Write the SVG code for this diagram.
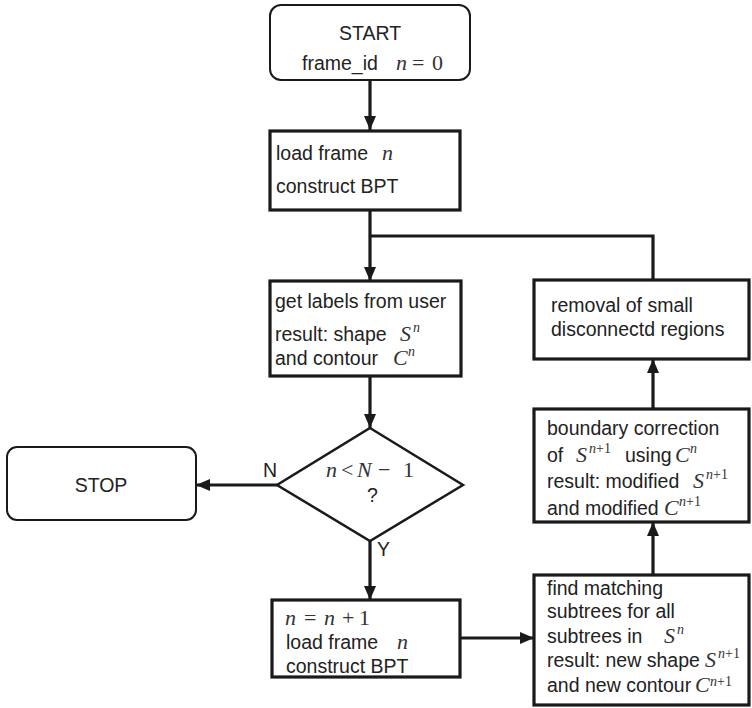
<svg xmlns="http://www.w3.org/2000/svg" width="752" height="708" viewBox="0 0 752 708">
<defs>
<marker id="ah" markerUnits="userSpaceOnUse" markerWidth="14" markerHeight="12" refX="14" refY="6" orient="auto">
<path d="M0,0 L14,6 L0,12 z" fill="#1a1a1a"/>
</marker>
<style>
.box{fill:#fff;stroke:#1a1a1a;stroke-width:3.2}
.rbox{fill:#fff;stroke:#1a1a1a;stroke-width:2}
.t{font-family:"Liberation Sans",Arial,sans-serif;font-size:19.5px;fill:#222}
.m{font-family:"Liberation Serif","Times New Roman",serif;font-style:italic;font-size:22px;fill:#333}
.mu{font-family:"Liberation Serif","Times New Roman",serif;font-style:normal;font-size:22px;fill:#333}
.sup{font-family:"Liberation Serif","Times New Roman",serif;font-style:italic;font-size:14px;fill:#333}
.sup2{font-family:"Liberation Serif","Times New Roman",serif;font-style:normal;font-size:14px;fill:#333}
.c{fill:none;stroke:#1a1a1a;stroke-width:3.2}
</style>
</defs>
<g id="connectors">
<line class="c" x1="370" y1="80" x2="370" y2="130" marker-end="url(#ah)"/>
<line class="c" x1="370" y1="210" x2="370" y2="281" marker-end="url(#ah)"/>
<polyline class="c" points="653,280 653,236 370,236"/>
<line class="c" x1="370" y1="376" x2="370" y2="428" marker-end="url(#ah)"/>
<line class="c" x1="277" y1="485" x2="196" y2="485" marker-end="url(#ah)"/>
<line class="c" x1="370" y1="541" x2="370" y2="600" marker-end="url(#ah)"/>
<line class="c" x1="460" y1="638" x2="534" y2="638" marker-end="url(#ah)"/>
<line class="c" x1="653" y1="575" x2="653" y2="522" marker-end="url(#ah)"/>
<line class="c" x1="653" y1="409" x2="653" y2="359" marker-end="url(#ah)"/>
<text class="t" x="263" y="477" font-size="16">N</text>
<text class="t" x="377" y="556" font-size="16">Y</text>
</g>
<g id="start">
<rect class="rbox" x="270" y="5" width="200" height="75" rx="11"/>
<text class="t" x="370" y="40" text-anchor="middle">START</text>
<text class="t" x="302" y="70">frame_id<tspan class="m" x="396">n</tspan><tspan class="mu" x="412">=</tspan><tspan class="mu" x="432">0</tspan></text>
</g>
<g id="load1">
<rect class="box" x="270" y="131" width="190" height="79"/>
<text class="t" x="276" y="160">load frame<tspan class="m" x="382">n</tspan></text>
<text class="t" x="276" y="193">construct BPT</text>
</g>
<g id="labels">
<rect class="box" x="270" y="281" width="191" height="95"/>
<text class="t" x="275" y="308">get labels from user</text>
<text class="t" x="275" y="341">result: shape<tspan class="m" x="400">S</tspan><tspan class="sup" x="413" y="332">n</tspan></text>
<text class="t" x="275" y="365">and contour<tspan class="m" x="393">C</tspan><tspan class="sup" x="408" y="356">n</tspan></text>
</g>
<g id="decision">
<polygon points="370,428 463,485 370,541 277,485" fill="#fff" stroke="#1a1a1a" stroke-width="2.5"/>
<text class="m" x="326" y="477">n<tspan class="mu" x="341">&lt;</tspan><tspan x="357">N</tspan><tspan class="mu" x="378">−</tspan><tspan class="mu" x="403">1</tspan></text>
<text class="t" x="367" y="502" font-size="16">?</text>
</g>
<g id="stop">
<rect class="rbox" x="7" y="447" width="189" height="73" rx="10"/>
<text class="t" x="101" y="492" text-anchor="middle" font-size="18">STOP</text>
</g>
<g id="load2">
<rect class="box" x="272" y="600" width="188" height="77"/>
<text class="m" x="285" y="625">n<tspan class="mu" x="304">=</tspan><tspan x="324">n</tspan><tspan class="mu" x="342">+</tspan><tspan class="mu" x="359">1</tspan></text>
<text class="t" x="286" y="649">load frame<tspan class="m" x="397">n</tspan></text>
<text class="t" x="286" y="673">construct BPT</text>
</g>
<g id="removal">
<rect class="box" x="534" y="280" width="215" height="79"/>
<text class="t" x="551" y="312">removal of small</text>
<text class="t" x="551" y="336">disconnectd regions</text>
</g>
<g id="boundary">
<rect class="box" x="534" y="409" width="215" height="113"/>
<text class="t" x="547" y="435">boundary correction</text>
<text class="t" x="547" y="462">of<tspan class="m" x="576">S</tspan><tspan class="sup" x="589" y="453">n</tspan><tspan class="sup2">+1</tspan><tspan x="625" y="462">using</tspan><tspan class="m" x="675">C</tspan><tspan class="sup" x="690" y="453">n</tspan></text>
<text class="t" x="547" y="488">result: modified<tspan class="m" x="693">S</tspan><tspan class="sup" x="706" y="479">n</tspan><tspan class="sup2">+1</tspan></text>
<text class="t" x="547" y="515">and modified<tspan class="m" x="664">C</tspan><tspan class="sup" x="679" y="506">n</tspan><tspan class="sup2">+1</tspan></text>
</g>
<g id="find">
<rect class="box" x="534" y="575" width="215" height="130"/>
<text class="t" x="547" y="595">find matching</text>
<text class="t" x="547" y="618">subtrees for all</text>
<text class="t" x="547" y="643">subtrees in<tspan class="m" x="664">S</tspan><tspan class="sup" x="677" y="634">n</tspan></text>
<text class="t" x="547" y="667">result: new shape<tspan class="m" x="705">S</tspan><tspan class="sup" x="718" y="658">n</tspan><tspan class="sup2">+1</tspan></text>
<text class="t" x="547" y="692">and new contour<tspan class="m" x="695">C</tspan><tspan class="sup" x="710" y="686">n</tspan><tspan class="sup2">+1</tspan></text>
</g>
</svg>
